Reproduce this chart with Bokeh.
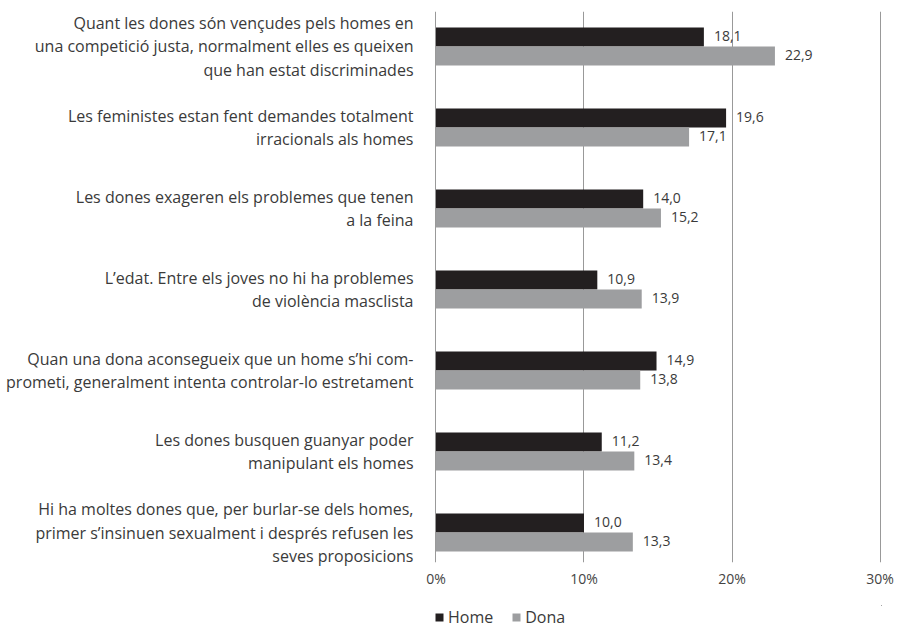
from bokeh.plotting import figure
from bokeh.layouts import column
from bokeh.models import (Range1d, Legend, LegendItem, FixedTicker,
                          PrintfTickFormatter, ColumnDataSource)
from bokeh.transform import dodge
from bokeh.core.properties import value
from bokeh.embed import file_html
from bokeh.resources import INLINE

categories = [
    "Quant les dones són vençudes pels homes en\nuna competició justa, normalment elles es queixen\nque han estat discriminades",
    "Les feministes estan fent demandes totalment\nirracionals als homes",
    "Les dones exageren els problemes que tenen\na la feina",
    "L’edat. Entre els joves no hi ha problemes\nde violència masclista",
    "Quan una dona aconsegueix que un home s’hi com-\nprometi, generalment intenta controlar-lo estretament",
    "Les dones busquen guanyar poder\nmanipulant els homes",
    "Hi ha moltes dones que, per burlar-se dels homes,\nprimer s’insinuen sexualment i després refusen les\nseves proposicions",
]
home = [18.1, 19.6, 14.0, 10.9, 14.9, 11.2, 10.0]
dona = [22.9, 17.1, 15.2, 13.9, 13.8, 13.4, 13.3]
x_ticks = [0, 10, 20, 30]
series_names = ["Home", "Dona"]

HOME_COLOR = "#231f20"
DONA_COLOR = "#9d9ea0"
FONT = "Open Sans"
TEXT_COLOR = "#3a3a3a"

pos = list(range(len(categories)))
src = ColumnDataSource(dict(
    pos=pos,
    home=home,
    dona=dona,
    home_lbl=[f"{v:.1f}".replace(".", ",") for v in home],
    dona_lbl=[f"{v:.1f}".replace(".", ",") for v in dona],
))

p = figure(width=901, height=600, output_backend="svg", toolbar_location=None,
           x_range=Range1d(-0.1, 30.1), y_range=Range1d(len(categories) - 1 + 0.37, -0.432),
           min_border_left=434, min_border_right=20, min_border_top=11, min_border_bottom=38)
p.outline_line_color = None
p.background_fill_color = "white"

bar_h = 0.235
r_home = p.hbar(y=dodge("pos", -bar_h / 2), right="home", left=0, height=bar_h,
                source=src, fill_color=HOME_COLOR, line_color=None)
r_dona = p.hbar(y=dodge("pos", bar_h / 2), right="dona", left=0, height=bar_h,
                source=src, fill_color=DONA_COLOR, line_color=None)

p.text(x="home", y=dodge("pos", -bar_h / 2), text="home_lbl", source=src,
       x_offset=10, y_offset=-1, text_baseline="middle", text_font=value(FONT),
       text_font_size="14px", text_color=TEXT_COLOR)
p.text(x="dona", y=dodge("pos", bar_h / 2), text="dona_lbl", source=src,
       x_offset=10, y_offset=-1, text_baseline="middle", text_font=value(FONT),
       text_font_size="14px", text_color=TEXT_COLOR)

# category axis on the left (multi-line labels)
p.yaxis.ticker = FixedTicker(ticks=pos)
p.yaxis.major_label_overrides = {i: c for i, c in zip(pos, categories)}
p.yaxis.axis_line_color = None
p.yaxis.major_tick_line_color = None
p.yaxis.minor_tick_line_color = None
p.yaxis.major_tick_out = 0
p.yaxis.major_label_standoff = 21
p.yaxis.major_label_text_font = FONT
p.yaxis.major_label_text_font_size = "16px"
p.yaxis.major_label_text_color = TEXT_COLOR
p.yaxis.major_label_text_line_height = 1.05

p.xaxis.ticker = FixedTicker(ticks=x_ticks)
p.xaxis.formatter = PrintfTickFormatter(format="%d%%")
p.xaxis.axis_line_color = None
p.xaxis.major_tick_line_color = None
p.xaxis.minor_tick_line_color = None
p.xaxis.major_tick_out = 0
p.xaxis.major_label_standoff = 6
p.xaxis.major_label_text_font = FONT
p.xaxis.major_label_text_font_size = "14px"
p.xaxis.major_label_text_color = "#444444"

p.xgrid.ticker = FixedTicker(ticks=x_ticks)
p.xgrid.grid_line_color = "#999999"
p.xgrid.grid_line_width = 1
p.ygrid.visible = False

# legend in a small strip below the chart; its bars lie outside the strip's view
lf = figure(width=901, height=29, output_backend="svg", toolbar_location=None,
            x_axis_location=None, y_axis_location=None,
            x_range=Range1d(-2, -1), y_range=Range1d(-2, -1),
            min_border_left=432, min_border_right=0, min_border_top=5, min_border_bottom=0)
lf.outline_line_color = None
lf.xgrid.visible = False
lf.ygrid.visible = False
lh = lf.hbar(y="pos", right="home", left=0, height=bar_h, source=src,
             fill_color=HOME_COLOR, line_color=None)
ld = lf.hbar(y="pos", right="dona", left=0, height=bar_h, source=src,
             fill_color=DONA_COLOR, line_color=None)
legend = Legend(items=[LegendItem(label=series_names[0], renderers=[lh], index=0),
                       LegendItem(label=series_names[1], renderers=[ld], index=0)],
                location="left", orientation="horizontal",
                label_text_font=FONT, label_text_font_size="16px",
                label_text_color=TEXT_COLOR, glyph_width=10, glyph_height=10,
                label_height=16, label_standoff=4, spacing=18, padding=0, margin=0,
                border_line_alpha=0, background_fill_alpha=0)
lf.add_layout(legend)

open("out.html", "w").write(file_html(column(p, lf, spacing=0), INLINE))
